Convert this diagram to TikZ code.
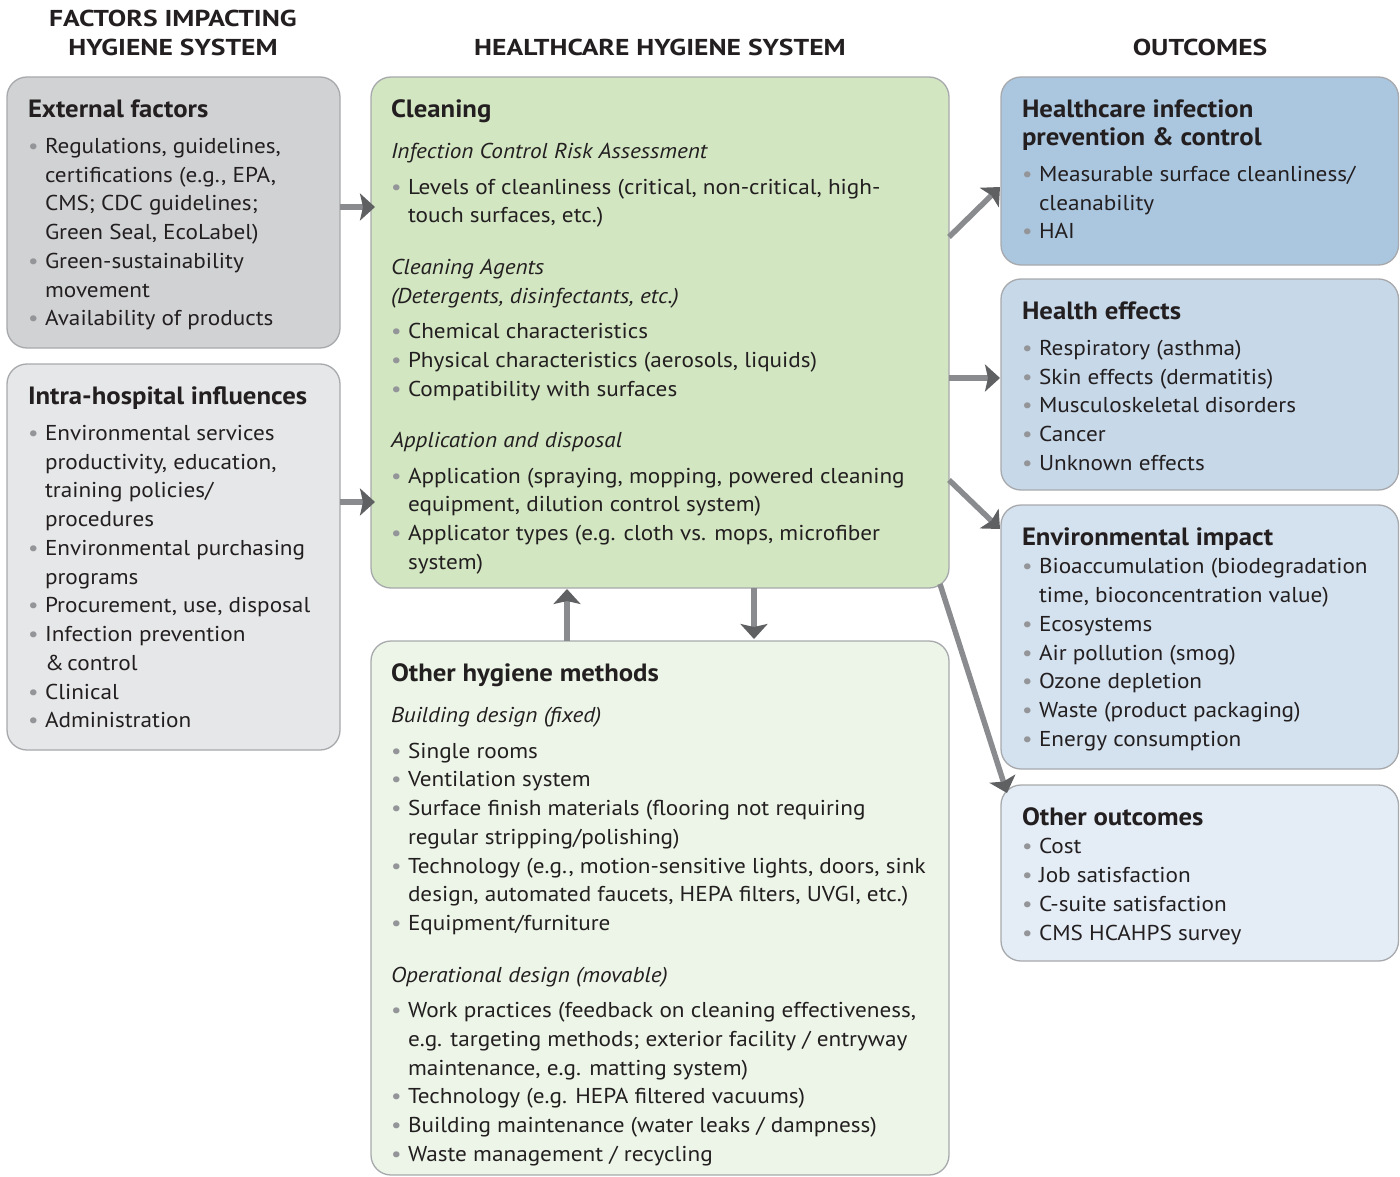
\documentclass[tikz,border=0pt]{standalone}
\usepackage{fontspec}
\setmainfont{PT Sans}[FakeStretch=1.08]
\newfontfamily\hdfont{PT Sans}[FakeStretch=1.07]
\newfontfamily\titlefont{PT Sans}[FakeStretch=1.2]
\usetikzlibrary{calc,arrows.meta}
\definecolor{txtc}{HTML}{231F20}
\definecolor{bulgray}{HTML}{939598}
\definecolor{edgec}{HTML}{A7A9AC}
\definecolor{cext}{HTML}{D1D2D4}
\definecolor{cintra}{HTML}{E6E7E8}
\definecolor{cclean}{HTML}{D2E6C2}
\definecolor{coh}{HTML}{EDF5E8}
\definecolor{chipc}{HTML}{ABC7E0}
\definecolor{che}{HTML}{C7D8E9}
\definecolor{cenv}{HTML}{D4E1EE}
\definecolor{coo}{HTML}{E4EDF6}
\definecolor{arrc}{HTML}{8A8B8E}
\definecolor{arrh}{HTML}{5F6062}
\newcommand\mybul{\makebox[17pt][l]{\textcolor{bulgray}{\textbullet}}}
\newcommand\myind{\hspace*{17pt}}
\newcommand\myhd[1]{{\hdfont\fontsize{25}{29}\selectfont\bfseries\rule{0pt}{22pt}#1}}
\newcommand\myhdb[1]{{\hdfont\fontsize{25}{29}\selectfont\bfseries #1}}
\tikzset{
  boxst/.style={draw=edgec, line width=1.3pt, rounded corners=20pt, anchor=north west, outer sep=0pt, inner sep=0pt},
  txtst/.style={anchor=north west, align=left, inner sep=0pt, outer sep=0pt, text=txtc, font=\fontsize{21.5}{28.75}\selectfont},
  titlest/.style={anchor=base, align=center, inner sep=0pt, text=txtc, font=\titlefont\fontsize{23}{29}\selectfont\bfseries},
  arr/.style={draw=arrc, line width=5.5pt, -{Stealth[length=15pt, width=27pt, inset=3pt, color=arrh, fill=arrh]}}
}
\begin{document}
\begin{tikzpicture}[x=1pt,y=-1pt]
\useasboundingbox (0,0) rectangle (1400,1177);
% titles
\node[titlest] (t1) at (173,27) {FACTORS IMPACTING};
\node[titlest] (t2) at (173,56) {HYGIENE SYSTEM};
\node[titlest] (t3) at (660,56) {HEALTHCARE HYGIENE SYSTEM};
\node[titlest] (t4) at (1200,56) {OUTCOMES};
% boxes
\node[boxst, fill=cext, minimum width=333pt, minimum height=271pt] (ext) at (7,77) {};
\node[boxst, fill=cintra, minimum width=333pt, minimum height=386pt] (intra) at (7,364) {};
\node[boxst, fill=cclean, minimum width=578pt, minimum height=511pt] (clean) at (371,77) {};
\node[boxst, fill=coh, minimum width=578pt, minimum height=534pt] (oh) at (371,641) {};
\node[boxst, fill=chipc, minimum width=397.5pt, minimum height=188pt] (hipc) at (1001,77) {};
\node[boxst, fill=che, minimum width=397.5pt, minimum height=211pt] (he) at (1001,279) {};
\node[boxst, fill=cenv, minimum width=397.5pt, minimum height=264pt] (env) at (1001,505) {};
\node[boxst, fill=coo, minimum width=397.5pt, minimum height=176pt] (oo) at (1001,785) {};
% texts
\node[txtst] (extt) at ($(ext.north west)+(21,18)$) {\myhd{External factors}\\[7.5pt]
\mybul Regulations, guidelines,\\
\myind certifications (e.g., EPA,\\
\myind CMS; CDC guidelines;\\
\myind Green Seal, EcoLabel)\\
\mybul Green-sustainability\\
\myind movement\\
\mybul Availability of products};
\node[txtst] (intrat) at ($(intra.north west)+(21,18)$) {\myhd{Intra-hospital influences}\\[7.5pt]
\mybul Environmental services\\
\myind productivity, education,\\
\myind training policies/\\
\myind procedures\\
\mybul Environmental purchasing\\
\myind programs\\
\mybul Procurement, use, disposal\\
\mybul Infection prevention\\
\myind \&\,control\\
\mybul Clinical\\
\mybul Administration};
\node[txtst] (cleant) at ($(clean.north west)+(20,18)$) {\myhd{Cleaning}\\[13pt]
\textit{Infection Control Risk Assessment}\\[6.5pt]
\mybul Levels of cleanliness (critical, non-critical, high-\\
\myind touch surfaces, etc.)\\[23pt]
\textit{Cleaning Agents}\\
\textit{(Detergents, disinfectants, etc.)}\\[6.5pt]
\mybul Chemical characteristics\\
\mybul Physical characteristics (aerosols, liquids)\\
\mybul Compatibility with surfaces\\[23pt]
\textit{Application and disposal}\\[6.5pt]
\mybul Application (spraying, mopping, powered cleaning\\
\myind equipment, dilution control system)\\
\mybul Applicator types (e.g. cloth vs. mops, microfiber\\
\myind system)};
\node[txtst] (oht) at ($(oh.north west)+(20,18)$) {\myhd{Other hygiene methods}\\[13pt]
\textit{Building design (fixed)}\\[6.5pt]
\mybul Single rooms\\
\mybul Ventilation system\\
\mybul Surface finish materials (flooring not requiring\\
\myind regular stripping/polishing)\\
\mybul Technology (e.g., motion-sensitive lights, doors, sink\\
\myind design, automated faucets, HEPA filters, UVGI, etc.)\\
\mybul Equipment/furniture\\[23pt]
\textit{Operational design (movable)}\\[6.5pt]
\mybul Work practices (feedback on cleaning effectiveness,\\
\myind e.g. targeting methods; exterior facility / entryway\\
\myind maintenance, e.g. matting system)\\
\mybul Technology (e.g. HEPA filtered vacuums)\\
\mybul Building maintenance (water leaks / dampness)\\
\mybul Waste management / recycling};
\node[txtst] (hipct) at ($(hipc.north west)+(21,18)$) {\myhd{Healthcare infection}\\
\myhdb{prevention \& control}\\[7pt]
\mybul Measurable surface cleanliness/\\
\myind cleanability\\
\mybul HAI};
\node[txtst] (het) at ($(he.north west)+(21,18)$) {\myhd{Health effects}\\[7.5pt]
\mybul Respiratory (asthma)\\
\mybul Skin effects (dermatitis)\\
\mybul Musculoskeletal disorders\\
\mybul Cancer\\
\mybul Unknown effects};
\node[txtst] (envt) at ($(env.north west)+(21,18)$) {\myhd{Environmental impact}\\
\mybul Bioaccumulation (biodegradation\\
\myind time, bioconcentration value)\\
\mybul Ecosystems\\
\mybul Air pollution (smog)\\
\mybul Ozone depletion\\
\mybul Waste (product packaging)\\
\mybul Energy consumption};
\node[txtst] (oot) at ($(oo.north west)+(21,18)$) {\myhd{Other outcomes}\\
\mybul Cost\\
\mybul Job satisfaction\\
\mybul C-suite satisfaction\\
\mybul CMS HCAHPS survey};
% arrows
\draw[arr] ($(ext.east)+(0,-5.5)$) -- ($(clean.west |- ext.east)+(4,-5.5)$);
\draw[arr] ($(intra.east)+(0,-55)$) -- ($(clean.west |- intra.east)+(4,-55)$);
\draw[arr] ($(clean.east)+(0,-95.5)$) -- ($(hipc.west)+(-1,16)$);
\draw[arr] ($(clean.east)+(0,45.5)$) -- ($(he.west)+(-1,-6.5)$);
\draw[arr] ($(clean.east)+(0,147.5)$) -- ($(env.west)+(-1,-108)$);
\draw[arr] ($(clean.south east)+(-9,-4)$) -- ($(oo.north west)+(6,8)$);
\draw[arr] ($(oh.north)+(-93,0)$) -- ($(clean.south)+(-93,1)$);
\draw[arr] ($(clean.south)+(94,0)$) -- ($(oh.north)+(94,-2)$);
\end{tikzpicture}
\end{document}
